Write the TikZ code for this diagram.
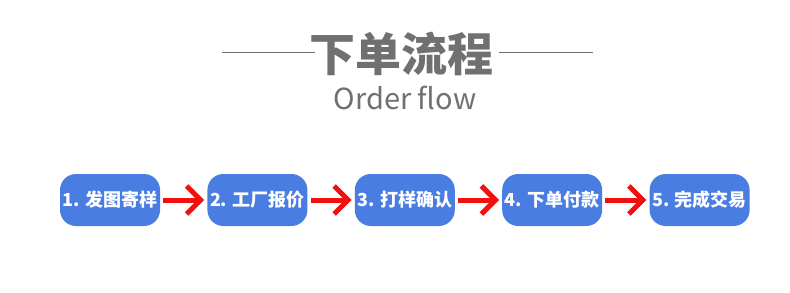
\documentclass[tikz,border=0pt]{standalone}
\usepackage{fontspec}
\setmainfont{Noto Sans CJK SC}
\newfontfamily\cjk{Noto Sans CJK SC}
\usepackage{xcolor}
\usepackage{tikz}
\usetikzlibrary{arrows.meta, positioning}
\definecolor{boxblue}{RGB}{74, 125, 226}
\definecolor{arrowred}{RGB}{240, 16, 16}
\definecolor{titlegray}{RGB}{112, 112, 112}

\begin{document}
\begin{tikzpicture}[
    x=1pt, y=-1pt,
    node distance=47pt,
    flowBox/.style={fill=boxblue, rounded corners=16pt, text=white, font=\cjk\fontsize{18}{20}\selectfont\bfseries, align=center, minimum width=100pt, minimum height=52pt, inner sep=0pt},
    flowArrow/.style={draw=arrowred, line width=5pt, -{Straight Barb[length=14pt, width=28pt]}},
    sideLine/.style={draw=titlegray, line width=0.8pt}
]
\useasboundingbox (0,0) rectangle (790,292);

% Title
\node[text=titlegray, font=\cjk\fontsize{46}{50}\selectfont\bfseries, inner sep=0pt] (title) at (401,54) {下单流程};
\node[text=titlegray, font=\cjk\fontsize{29}{32}\selectfont, inner sep=0pt] (subtitle) at (405,98) {Order flow};
\coordinate (lineL) at (222,52);
\coordinate (lineR) at (593,52);
\draw[sideLine] (lineL) -- ([xshift=6pt]title.west |- lineL);
\draw[sideLine] ([xshift=6pt]title.east |- lineR) -- (lineR);

% Steps
\node[flowBox] (sendSample) at (110,200) {1. 发图寄样};
\node[flowBox, right=of sendSample] (quote) {2. 工厂报价};
\node[flowBox, right=of quote] (proof) {3. 打样确认};
\node[flowBox, right=of proof] (pay) {4. 下单付款};
\node[flowBox, right=of pay] (deal) {5. 完成交易};

\draw[flowArrow] ([xshift=3pt]sendSample.east) -- ([xshift=-3pt]quote.west);
\draw[flowArrow] ([xshift=3pt]quote.east) -- ([xshift=-3pt]proof.west);
\draw[flowArrow] ([xshift=3pt]proof.east) -- ([xshift=-3pt]pay.west);
\draw[flowArrow] ([xshift=3pt]pay.east) -- ([xshift=-3pt]deal.west);

\end{tikzpicture}
\end{document}
